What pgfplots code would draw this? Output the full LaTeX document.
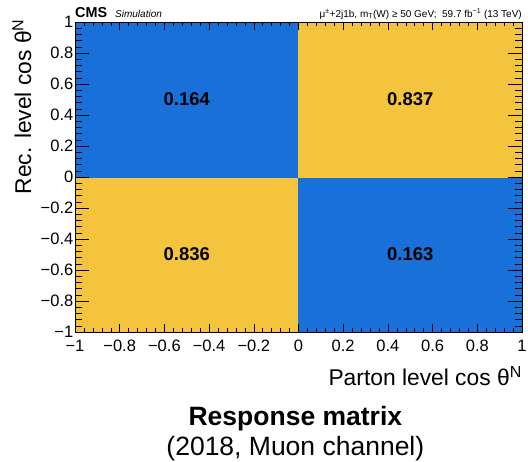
\documentclass[border=0pt]{standalone}
\usepackage{fontspec}
\setmainfont{Liberation Sans}
\usepackage{pgfplots}
\usepackage{pgfplotstable}
\pgfplotsset{compat=1.18}
\definecolor{cmsblue}{RGB}{24,112,216}
\definecolor{cmsyellow}{RGB}{244,196,62}
\pgfplotstableread{
x y z
-0.5 -0.5 0.836
0.5 -0.5 0.163
-0.5 0.5 0.164
0.5 0.5 0.837
}\resp
\pgfplotstableread{
x y l
-0.5 0.5 0.164
0.5 0.5 0.837
-0.5 -0.5 0.836
0.5 -0.5 0.163
}\resplab
\begin{document}
\begin{tikzpicture}
\pgfplotsset{common/.style={width=447pt,height=310pt,scale only axis,
  xmin=-1,xmax=1,ymin=-1,ymax=1, at={(0,0)}, anchor=south west, clip=false,
  axis line style={line width=0.6pt,black},
  every tick/.style={black,line width=0.5pt}, tick align=inside}}
\begin{axis}[common, axis on top,
  colormap={by}{rgb255=(24,112,216) rgb255=(244,196,62)},
  point meta min=0.163, point meta max=0.837,
  xtick=\empty,
  ytick={-1,-0.8,-0.6,-0.4,-0.2,0,0.2,0.4,0.6,0.8,1},
  yticklabels={−1,−0.8,−0.6,−0.4,−0.2,0,0.2,0.4,0.6,0.8,1},
  minor y tick num=4,
  ytick pos=both, yticklabel pos=left,
  major tick length=14pt, minor tick length=7pt,
  yticklabel style={font=\fontsize{16.5}{16.5}\selectfont, inner sep=1.5pt},
  ylabel={Rec. level cos θ\textsuperscript{N}},
  ylabel style={font=\fontsize{22.8}{22.8}\selectfont, at={(axis description cs:-0.0984,1.01)}, anchor=base east, inner sep=0pt},
]
\addplot[matrix plot*, mesh/cols=2, point meta=explicit] table[meta=z]{\resp};
\addplot[only marks, mark=none, point meta=explicit symbolic, nodes near coords,
  every node near coord/.style={anchor=center, text=black, font=\bfseries\fontsize{18.5}{18.5}\selectfont}]
  table[meta=l]{\resplab};
\end{axis}
\begin{axis}[common,
  ytick=\empty,
  xtick={-1,-0.8,-0.6,-0.4,-0.2,0,0.2,0.4,0.6,0.8,1},
  xticklabels={−1,−0.8,−0.6,−0.4,−0.2,0,0.2,0.4,0.6,0.8,1},
  minor x tick num=4,
  xtick pos=both, xticklabel pos=lower,
  major tick length=8pt, minor tick length=4pt,
  xticklabel style={font=\fontsize{16.5}{16.5}\selectfont, inner sep=0pt, yshift=-8pt},
  xlabel={Parton level cos θ\textsuperscript{N}},
  xlabel style={font=\fontsize{22.8}{22.8}\selectfont, at={(axis description cs:1,-0.171)}, anchor=base east, inner sep=0pt},
]
\node[anchor=base west, inner sep=0pt] at (axis description cs:0,1.016) {\fontsize{14.4}{14.4}\selectfont\bfseries CMS\ \ \fontsize{10}{10}\selectfont\mdseries\itshape Simulation};
\node[anchor=base east, inner sep=0pt] at (axis description cs:1,1.016) {\fontsize{10}{10}\selectfont μ\textsuperscript{±}+2j1b, m\textsubscript{T}(W) ≥ 50 GeV;\ \ 59.7 fb\textsuperscript{−1} (13 TeV)};
\node[anchor=base, inner sep=0pt] at (axis description cs:0.493,-0.303) {\fontsize{26.5}{26.5}\selectfont\bfseries Response matrix};
\node[anchor=base, inner sep=0pt] at (axis description cs:0.493,-0.397) {\fontsize{26.5}{26.5}\selectfont (2018, Muon channel)};
\end{axis}
\pgfresetboundingbox
\useasboundingbox (-75pt,-130pt) rectangle (453pt,332pt);
\end{tikzpicture}
\end{document}
